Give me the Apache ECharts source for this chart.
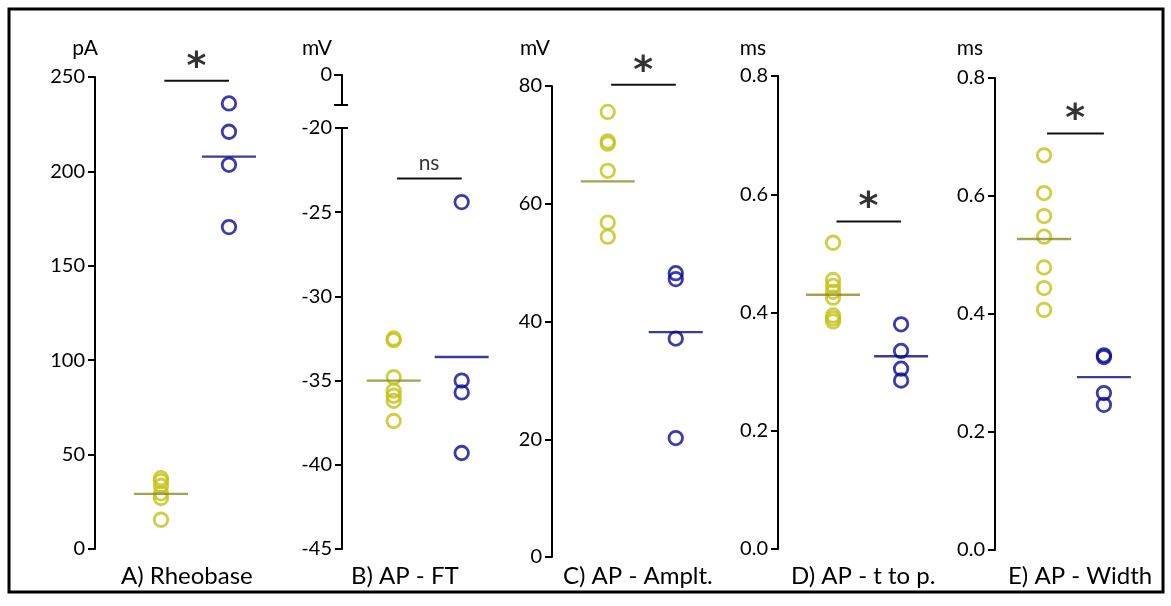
<!DOCTYPE html>
<html>
<head>
<meta charset="utf-8">
<script src="https://cdn.jsdelivr.net/npm/echarts@6/dist/echarts.min.js"></script>
<style>
  html, body { margin: 0; padding: 0; background: #fff; }
  #chart { width: 1171px; height: 606px; }
</style>
</head>
<body>
<div id="chart"></div>
<script>
// Panel titles and units
const panelTitles = ['A) Rheobase', 'B) AP - FT', 'C) AP - Amplt.', 'D) AP - t to p.', 'E) AP - Width'];
const panelUnits = ['pA', 'mV', 'mV', 'ms', 'ms'];

// Individual cells, first group (yellow) and second group (blue)
const rheobaseCtrl = [37.5, 36, 33.5, 29.5, 27, 15.5];
const rheobaseTest = [236, 221, 203.5, 170.5];
const ftCtrl = [-32.5, -32.6, -34.8, -35.6, -35.9, -36.2, -37.4];
const ftTest = [-24.4, -35.0, -35.7, -39.3];
const amplCtrl = [75.6, 70.6, 70.2, 65.6, 56.8, 54.4];
const amplTest = [48.2, 47.2, 37.1, 20.2];
const ttpCtrl = [0.518, 0.455, 0.445, 0.435, 0.425, 0.395, 0.39, 0.385];
const ttpTest = [0.38, 0.335, 0.305, 0.285];
const widthCtrl = [0.669, 0.605, 0.566, 0.531, 0.479, 0.444, 0.407];
const widthTest = [0.33, 0.327, 0.266, 0.246];

// Group means (horizontal bars)
const meansCtrl = [29.2, -35.0, 63.8, 0.430, 0.527];
const meansTest = [207.8, -33.6, 38.2, 0.326, 0.293];

// Significance bars: level and marker
const sigLevels = [248, -23.0, 80.2, 0.554, 0.706];
const sigMarks = ['*', 'ns', '*', '*', '*'];

// Axis ranges
const yMins = [0, -45, 0, 0, 0];
const yMaxs = [250, -20, 80, 0.8, 0.8];
const yIntervals = [50, 5, 20, 0.2, 0.2];
const ftBreakTop = [0, -1.8];   // short upper piece of the broken FT axis

const ctrlSets = [rheobaseCtrl, ftCtrl, amplCtrl, ttpCtrl, widthCtrl];
const testSets = [rheobaseTest, ftTest, amplTest, ttpTest, widthTest];

// Layout (pixels)
const axisLeft = [95, 342, 552, 778, 995];
const axisTop = [77, 128, 86, 76, 78];
const axisBottom = [549, 549, 557, 549, 550];
const unitTop = [77, 75, 86, 76, 78];
const xStart = [0.03, 0.24, 0.18, 0.19, 0.18];
const titleLeft = [116, 346, 558, 786, 1003];
const unitShift = [-3, 10, 2, 12, 12];
const PX_PER_X = 68;
const GRID_W = 200;

const FONT = 'Lato';
const YELLOW = '#c4c217';
const YELLOW_MEAN = '#8c8b24';
const BLUE = '#0a0a96';
const BLUE_MEAN = '#0a0a80';
const TICK_FONT = 20;

const grids = [], xAxes = [], yAxes = [], series = [], titles = [];

function baseYAxis(gi, extra) {
  return Object.assign({
    gridIndex: gi,
    type: 'value',
    position: 'left',
    axisLine: { show: true, lineStyle: { color: '#000', width: 2 } },
    axisTick: { show: true, length: 7, lineStyle: { color: '#000', width: 2 } },
    axisLabel: { fontSize: TICK_FONT, color: '#000', margin: 10, fontFamily: FONT },
    splitLine: { show: false }
  }, extra);
}

function addGrid(left, top, height, xmin) {
  const gi = grids.length;
  grids.push({ left: left, top: top, width: GRID_W, height: height });
  xAxes.push({ gridIndex: gi, type: 'value', min: xmin, max: xmin + GRID_W / PX_PER_X, show: false });
  return gi;
}

for (let p = 0; p < 5; p++) {
  let gi;
  const fmtFn = p >= 3 ? (v => v.toFixed(1)) : (v => String(v));
  const nameCfg = {
    name: panelUnits[p],
    nameLocation: 'end',
    nameGap: unitTop[p] - 59,
    nameTextStyle: { fontSize: 21, color: '#000', fontFamily: FONT, align: 'right', verticalAlign: 'bottom', padding: [0, unitShift[p], 0, 0] }
  };

  if (p === 1) {
    // upper stub of the broken axis, holding the 0 tick and the unit
    const gUp = addGrid(axisLeft[p], unitTop[p], 30, xStart[p]);
    yAxes.push(baseYAxis(gUp, Object.assign({
      min: ftBreakTop[1], max: ftBreakTop[0],
      axisTick: { show: true, length: 8, customValues: ftBreakTop, lineStyle: { color: '#000', width: 2 } },
      axisLabel: { fontSize: TICK_FONT, color: '#000', margin: 10, fontFamily: FONT, customValues: [0] }
    }, nameCfg)));
    yAxes.push(baseYAxis(gUp, {
      min: ftBreakTop[1], max: ftBreakTop[0],
      axisLine: { show: false },
      axisTick: { show: true, inside: true, length: 6, customValues: [ftBreakTop[1]], lineStyle: { color: '#000', width: 2 } },
      axisLabel: { show: false }
    }));
    gi = addGrid(axisLeft[p], axisTop[p], axisBottom[p] - axisTop[p], xStart[p]);
    yAxes.push(baseYAxis(gi, {
      min: yMins[p], max: yMaxs[p], interval: yIntervals[p],
      axisLabel: { fontSize: TICK_FONT, color: '#000', margin: 10, fontFamily: FONT, formatter: fmtFn }
    }));
    yAxes.push(baseYAxis(gi, {
      min: yMins[p], max: yMaxs[p],
      axisLine: { show: false },
      axisTick: { show: true, inside: true, length: 6, customValues: [yMaxs[p]], lineStyle: { color: '#000', width: 2 } },
      axisLabel: { show: false }
    }));
  } else {
    gi = addGrid(axisLeft[p], axisTop[p], axisBottom[p] - axisTop[p], xStart[p]);
    yAxes.push(baseYAxis(gi, Object.assign({
      min: yMins[p], max: yMaxs[p], interval: yIntervals[p],
      axisLabel: { fontSize: TICK_FONT, color: '#000', margin: 10, fontFamily: FONT, formatter: fmtFn }
    }, nameCfg)));
  }
  const yi = yAxes.findIndex(a => a.gridIndex === gi);

  const common = { xAxisIndex: gi, yAxisIndex: yi, silent: true, animation: false, clip: false };

  series.push(Object.assign({
    type: 'scatter', symbol: 'circle', symbolSize: 13.5,
    itemStyle: { color: 'rgba(255,255,255,0)', borderColor: YELLOW, borderWidth: 2.8 },
    data: ctrlSets[p].map(v => [1, v])
  }, common));
  series.push(Object.assign({
    type: 'scatter', symbol: 'circle', symbolSize: 13.5,
    itemStyle: { color: 'rgba(255,255,255,0)', borderColor: BLUE, borderWidth: 2.8 },
    data: testSets[p].map(v => [2, v])
  }, common));
  // group means
  series.push(Object.assign({
    type: 'scatter', symbol: 'rect', symbolSize: [54, 2.4], z: 4,
    itemStyle: { color: YELLOW_MEAN },
    data: [[1, meansCtrl[p]]]
  }, common));
  series.push(Object.assign({
    type: 'scatter', symbol: 'rect', symbolSize: [54, 2.4], z: 4,
    itemStyle: { color: BLUE_MEAN },
    data: [[2, meansTest[p]]]
  }, common));
  // significance bar
  series.push(Object.assign({
    type: 'line', symbol: 'none', z: 4,
    lineStyle: { color: '#111', width: 2 },
    data: [[1.05, sigLevels[p]], [2.0, sigLevels[p]]]
  }, common));
  const isStar = sigMarks[p] === '*';
  series.push(Object.assign({
    type: 'scatter', symbolSize: 0, z: 5,
    label: {
      show: true, position: 'top', formatter: sigMarks[p],
      distance: isStar ? -6 : 5,
      fontSize: isStar ? 38 : 21, fontWeight: isStar ? 'bold' : 'normal',
      color: '#000', fontFamily: isStar ? 'DejaVu Sans' : FONT
    },
    data: [[1.52, sigLevels[p]]]
  }, common));

  titles.push({
    text: panelTitles[p], left: titleLeft[p], top: 559,
    textStyle: { fontSize: 24, fontWeight: 'normal', color: '#000', fontFamily: FONT }
  });
}

const chart = echarts.init(document.getElementById('chart'), null, { renderer: 'canvas' });
chart.setOption({
  animation: false,
  backgroundColor: '#fff',
  title: titles,
  grid: grids,
  xAxis: xAxes,
  yAxis: yAxes,
  series: series,
  graphic: [{
    type: 'rect', silent: true,
    shape: { x: 9, y: 9, width: 1154, height: 583 },
    style: { fill: 'none', stroke: '#000', lineWidth: 3 }
  }]
});
</script>
</body>
</html>
